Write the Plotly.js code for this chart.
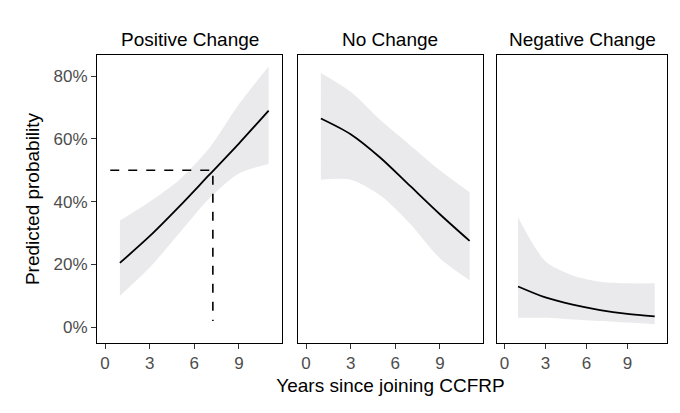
<!DOCTYPE html>
<html><head><meta charset="utf-8">
<script src="https://cdn.plot.ly/plotly-3.0.1.min.js"></script>
<style>body{margin:0}#chart{width:680px;height:413px}</style>
</head><body><div id="chart"></div>
<script>
// Predicted probability by years since joining CCFRP
const years = [1, 3, 5, 7, 9, 11];
const panels = ["Positive Change", "No Change", "Negative Change"];
const fitPos = [0.205, 0.29, 0.385, 0.485, 0.585, 0.69];
const loPos  = [0.10, 0.19, 0.30, 0.41, 0.49, 0.52];
const hiPos  = [0.34, 0.40, 0.47, 0.57, 0.71, 0.83];
const fitNo  = [0.665, 0.615, 0.54, 0.45, 0.36, 0.275];
const loNo   = [0.47, 0.47, 0.42, 0.33, 0.22, 0.15];
const hiNo   = [0.81, 0.75, 0.66, 0.58, 0.50, 0.43];
const fitNeg = [0.13, 0.095, 0.072, 0.055, 0.043, 0.035];
const loNeg  = [0.03, 0.03, 0.025, 0.02, 0.015, 0.01];
const hiNeg  = [0.35, 0.21, 0.165, 0.145, 0.14, 0.14];
// dashed guide: year at which positive change reaches 50%
const guideX = [0.35, 7.25, 7.25];
const guideY = [0.50, 0.50, 0.02];

const fits = [fitPos, fitNo, fitNeg], los = [loPos, loNo, loNeg], his = [hiPos, hiNo, hiNeg];
const domains = [[0, 0.3246], [0.3526, 0.6772], [0.7018, 1]];
const traces = [], layout = {
  width: 680, height: 413, showlegend: false,
  paper_bgcolor: "white", plot_bgcolor: "white",
  margin: { l: 97, r: 13, t: 55, b: 70 },
  font: { family: "Liberation Sans, Arial, sans-serif", color: "#000" },
  annotations: []
};
fits.forEach((f, i) => {
  const s = i === 0 ? "" : String(i + 1);
  traces.push({ x: years, y: los[i], xaxis: "x" + s, yaxis: "y" + s, mode: "lines",
    line: { width: 0, shape: "spline", smoothing: 0.8 }, hoverinfo: "skip" });
  traces.push({ x: years, y: his[i], xaxis: "x" + s, yaxis: "y" + s, mode: "lines",
    fill: "tonexty", fillcolor: "rgba(225,225,228,0.7)", line: { width: 0, shape: "spline", smoothing: 0.8 }, hoverinfo: "skip" });
  traces.push({ x: years, y: f, xaxis: "x" + s, yaxis: "y" + s, mode: "lines",
    line: { color: "black", width: 1.8, shape: "spline", smoothing: 0.8 } });
  layout["xaxis" + s] = {
    domain: domains[i], range: [-0.54, 11.9], tickvals: [0, 3, 6, 9],
    ticks: "outside", ticklen: 5, tickcolor: "#333", showgrid: false, zeroline: false,
    showline: true, mirror: true, linecolor: "black", linewidth: 1,
    tickfont: { size: 17, color: "#4d4d4d" }, anchor: "y" + s
  };
  layout["yaxis" + s] = {
    range: [-0.05, 0.867], tickvals: [0, 0.2, 0.4, 0.6, 0.8], tickformat: ".0%",
    showticklabels: i === 0, ticks: i === 0 ? "outside" : "", ticklen: 5, tickcolor: "#333",
    showgrid: false, zeroline: false, showline: true, mirror: true, linecolor: "black", linewidth: 1,
    tickfont: { size: 17, color: "#4d4d4d" }, anchor: "x" + s
  };
  layout.annotations.push({ text: panels[i], xref: "x" + s, yref: "y" + s,
    x: 5.68, y: 0.867, xanchor: "center", yanchor: "bottom", yshift: 3,
    showarrow: false, font: { size: 19 } });
});
traces.push({ x: guideX, y: guideY, mode: "lines", line: { color: "black", width: 1.6, dash: "dash" } });
layout.yaxis.title = { text: "Predicted probability", font: { size: 19 }, standoff: 8 };
layout.xaxis2.title = { text: "Years since joining CCFRP", font: { size: 19 }, standoff: 6 };
Plotly.newPlot("chart", traces, layout, { displayModeBar: false, staticPlot: true });
</script></body></html>
